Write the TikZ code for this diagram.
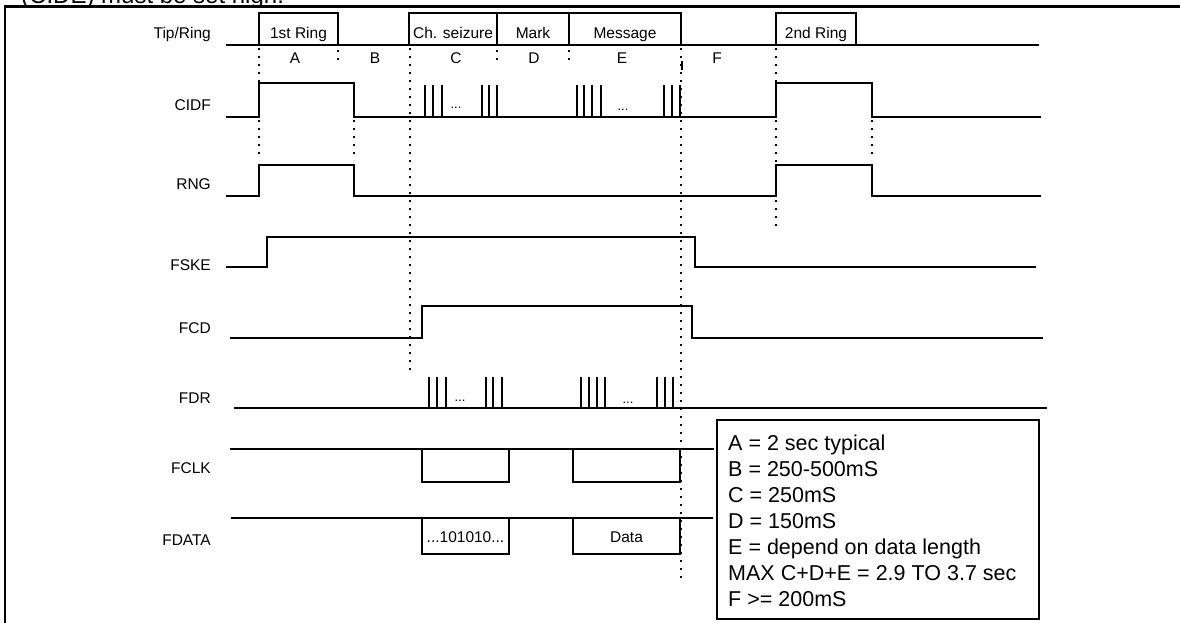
\documentclass[tikz,border=0pt]{standalone}
\usepackage{fontspec}
\setmainfont{Liberation Sans}
\usetikzlibrary{positioning}
\newcommand{\sigfont}{\fontsize{15.5}{18}\selectfont}
\newcommand{\dotfont}{\fontsize{13}{15}\selectfont}
\newcommand{\legfont}{\fontsize{21.5}{26}\selectfont}
\tikzset{
  sig/.style={line width=1.5pt},
  frame/.style={line width=2.3pt},
  dotline/.style={line width=1.6pt, dash pattern=on 1.6pt off 6.4pt},
  signame/.style={anchor=base east, inner sep=0pt, font=\sigfont},
  boxtext/.style={anchor=base, inner sep=0pt, font=\sigfont},
  seg/.style={anchor=base, inner sep=0pt, font=\sigfont},
  more/.style={anchor=base, inner sep=0pt, font=\dotfont},
  legtext/.style={anchor=base west, inner sep=0pt, font=\legfont}
}
\begin{document}
\begin{tikzpicture}[x=1pt, y=-1pt]
  \useasboundingbox (0,0) rectangle (1180,623);

  % cut-off caption and outer frame
  \node[anchor=base west, inner sep=0pt, font=\fontsize{24}{28}\selectfont] (caption) at (21,3.5) {(CIDE) must be set high.};
  \draw[frame] (5,623) -- (5,6.5) -- (1180,6.5);

  % signal names
  \node[signame] (tipring) at (211,39) {Tip/Ring};
  \node[signame] (cidf) at (211,111) {CIDF};
  \node[signame] (rng) at (211,189) {RNG};
  \node[signame] (fske) at (211,270) {FSKE};
  \node[signame] (fcd) at (211,333) {FCD};
  \node[signame] (fdr) at (211,403) {FDR};
  \node[signame] (fclk) at (211,473) {FCLK};
  \node[signame] (fdata) at (211,545) {FDATA};

  % time markers
  \draw[dotline] (259,48) -- (259,160);
  \draw[dotline] (354,120) -- (354,160);
  \draw[dotline] (410,48) -- (410,373);
  \draw[dotline] (681,48) -- (681,580);
  \draw[dotline] (776,48) -- (776,230);
  \draw[dotline] (872,120) -- (872,160);
  \foreach \x in {338,497,569}
    \draw[dotline] (\x,50) -- (\x,64);
  \draw[line width=1.2pt] (682,61) -- (682,70);

  % Tip/Ring
  \draw[sig] (226,45) -- (1039,45);
  \draw[sig] (259,45) rectangle (338,13);
  \draw[sig] (409,45) rectangle (497,13);
  \draw[sig] (497,45) rectangle (569,13);
  \draw[sig] (569,45) rectangle (681,13);
  \draw[sig] (776,45) rectangle (856,13);
  \node[boxtext] (ring1) at (298.5,39) {1st Ring};
  \node[boxtext] (seize) at (453,39) {Ch. seizure};
  \node[boxtext] (mark) at (533,39) {Mark};
  \node[boxtext] (msg) at (625,39) {Message};
  \node[boxtext] (ring2) at (816,39) {2nd Ring};
  \foreach \s/\x in {A/295,B/375,C/456,D/534,E/622,F/717}
    \node[seg] (seg\s) at (\x,64) {\s};

  % CIDF
  \draw[sig] (226,117) -| (259,83) -| (354,117) -| (776,83) -| (872,117) -- (1041,117);
  \foreach \x in {425,433,442,482,489,497,577,584,592,601,664,672,680}
    \draw[sig] (\x,117) -- (\x,85);
  \node[more] (cidfmore1) at (456,109) {...};
  \node[more] (cidfmore2) at (623,111) {...};

  % RNG
  \draw[sig] (226,196) -| (259,165) -| (354,196) -| (776,165) -| (872,196) -- (1041,196);

  % FSKE
  \draw[sig] (226,267) -| (267,237) -| (695,267) -- (1036,267);

  % FCD
  \draw[sig] (230,338) -| (422,306) -| (692,338) -- (1043,338);

  % FDR
  \draw[sig] (234,408) -- (1047,408);
  \foreach \x in {429,437,446,486,493,502,581,589,597,605,657,665,673}
    \draw[sig] (\x,408) -- (\x,377);
  \node[more] (fdrmore1) at (460,401) {...};
  \node[more] (fdrmore2) at (628,403) {...};

  % FCLK
  \draw[sig] (230,449) -- (714,449);
  \draw[sig] (422,449) rectangle (509,482);
  \draw[sig] (573,449) rectangle (680,482);

  % FDATA
  \draw[sig] (231,518) -- (713,518);
  \draw[sig] (422,518) rectangle (509,554);
  \draw[sig] (573,518) rectangle (680,554);
  \node[boxtext] (bits) at (465.5,542) {...101010...};
  \node[boxtext] (data) at (626.5,542) {Data};

  % timing legend
  \draw[line width=2pt] (717,420) rectangle (1039,619);
  \foreach \t [count=\i] in {{A = 2 sec typical},{B = 250-500mS},{C = 250mS},{D = 150mS},{E = depend on data length},{MAX C+D+E = 2.9 TO 3.7 sec},{F >= 200mS}}
    \node[legtext] (leg\i) at (728,424+26*\i) {\t};
\end{tikzpicture}
\end{document}
